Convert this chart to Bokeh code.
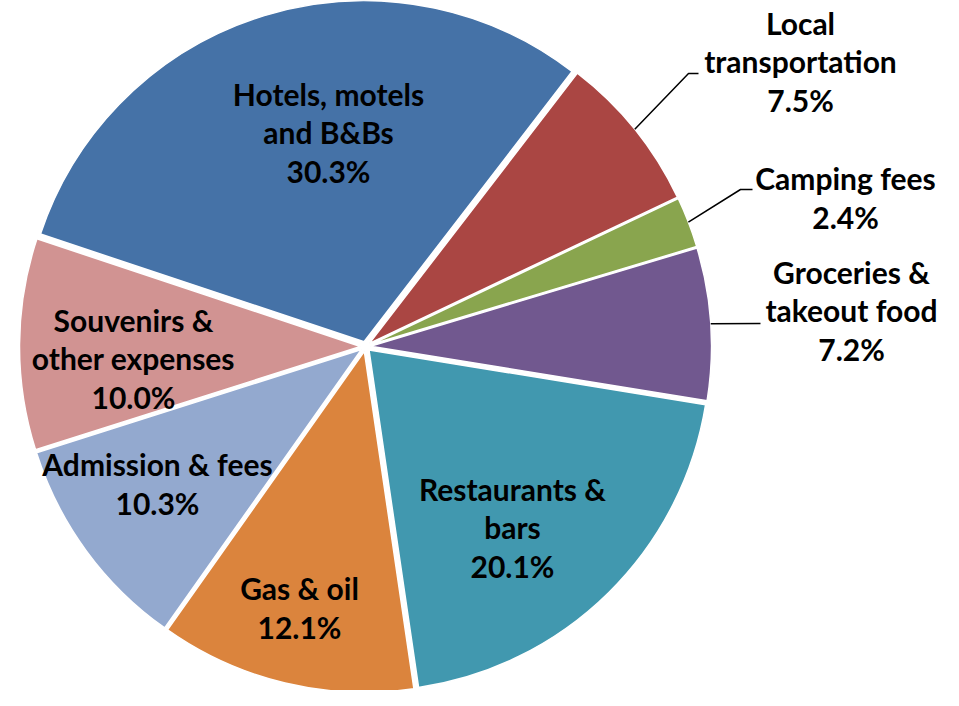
import math
from bokeh.plotting import figure
from bokeh.models import Range1d, ColumnDataSource
from bokeh.core.properties import value
from bokeh.embed import file_html
from bokeh.resources import INLINE

# ---- data ----
categories = ["Hotels, motels\nand B&Bs", "Local\ntransportation", "Camping fees",
              "Groceries &\ntakeout food", "Restaurants &\nbars", "Gas & oil",
              "Admission & fees", "Souvenirs &\nother expenses"]
shares = [30.3, 7.5, 2.4, 7.2, 20.1, 12.1, 10.3, 10.0]
colors = ["#4572A7", "#AA4643", "#89A54E", "#71588F", "#4198AF", "#DB843D", "#93A9CF", "#D19392"]

# ---- layout (pixels, measured from the top-left of the chart) ----
W, H = 943, 690
YSHIFT = 7                 # move everything up a little so the pie fits
CX, CY = 365, 353          # pie centre
R = 341
EXPLODE = 5
FIRST_ANGLE = -71.6        # clockwise from 12 o'clock
# label block centres
label_pos = [(328, 141), (800, 70), (845, 206), (851, 319), (512, 536), (299, 616), (157, 492), (133, 367)]
# leader line points after the slice edge (elbow, end); None for inside labels
leaders = [None, [(688, 80), (698, 80)], [(740, 196), (752, 196)], [(760, 330)], None, None, None, None]


def px(sx, sy):
    return sx, H - (sy - YSHIFT)


p = figure(width=W, height=H, output_backend="svg", toolbar_location=None,
           x_range=Range1d(0, W), y_range=Range1d(0, H), min_border=0)
p.axis.visible = False
p.grid.visible = False
p.outline_line_color = None
p.background_fill_color = "white"

total = sum(shares)
cx, cy = px(CX, CY)
xs, ys, starts, ends = [], [], [], []
acc = FIRST_ANGLE
bis = []
for s in shares:
    a0 = acc
    a1 = acc + s / total * 360.0
    acc = a1
    mid = (a0 + a1) / 2
    bis.append(mid)
    dx = EXPLODE * math.sin(math.radians(mid))
    dy = EXPLODE * math.cos(math.radians(mid))
    xs.append(cx + dx)
    ys.append(cy + dy)
    starts.append(math.radians(90 - a1))
    ends.append(math.radians(90 - a0))

src = ColumnDataSource(dict(x=xs, y=ys, start=starts, end=ends, color=colors))
p.wedge(x="x", y="y", radius=R, start_angle="start", end_angle="end", direction="anticlock",
        fill_color="color", line_color="white", line_width=1.5, source=src)

# leader lines
for i, ld in enumerate(leaders):
    if ld is None:
        continue
    mid = bis[i]
    rr = R + EXPLODE
    sx0 = cx + rr * math.sin(math.radians(mid))
    sy0 = cy + rr * math.cos(math.radians(mid))
    lx = [sx0] + [px(a, b)[0] for a, b in ld]
    ly = [sy0] + [px(a, b)[1] for a, b in ld]
    p.line(lx, ly, line_color="black", line_width=1.5)

texts = [f"{c}\n{s:.1f}%" for c, s in zip(categories, shares)]
tx = [px(a, b)[0] for a, b in label_pos]
ty = [px(a, b)[1] + 2 for a, b in label_pos]
p.text(x=tx, y=ty, text=texts, text_align="center", text_baseline="middle",
       text_font=value("Lato"), text_font_style="bold", text_font_size="30px",
       text_line_height=1.06, text_color="black")

open("out.html", "w").write(file_html(p, INLINE))
